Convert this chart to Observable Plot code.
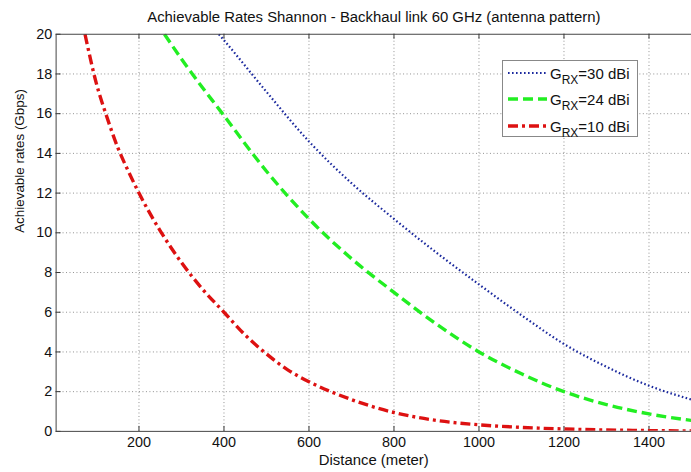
<!DOCTYPE html>
<html>
<head>
<meta charset="utf-8">
<script src="https://cdn.jsdelivr.net/npm/d3@7"></script>
<script src="https://cdn.jsdelivr.net/npm/@observablehq/plot@0.6"></script>
<style>
  html, body { margin: 0; padding: 0; background: #fff; overflow: hidden; }
  #wrap { position: relative; width: 691px; height: 472px; overflow: hidden; font-family: "Liberation Sans", Arial, sans-serif; }
  #legend { position: absolute; left: 502px; top: 60px; width: 136px; height: 77px; border: 1px solid #888; background: #fff; box-sizing: border-box; }
  .row { position: absolute; left: 4px; height: 20px; display: flex; align-items: center; font-size: 15px; color: #111; white-space: nowrap; }
  .row svg { margin-right: 3px; }
  .row sub { font-size: 12px; vertical-align: -5px; line-height: 0; }
</style>
</head>
<body>
<div id="wrap"></div>
<script>
// ---- data ----
const title = "Achievable Rates Shannon - Backhaul link 60 GHz (antenna pattern)";
const xLabel = "Distance (meter)";
const yLabel = "Achievable rates (Gbps)";
const xTicks = [200, 400, 600, 800, 1000, 1200, 1400];
const yTicks = [0, 2, 4, 6, 8, 10, 12, 14, 16, 18, 20];
const seriesNames = ["30 dBi", "24 dBi", "10 dBi"];

const blueX = [388, 400, 500, 600, 700, 800, 900, 1000, 1100, 1200, 1300, 1400, 1500];
const blueY = [20, 19.7, 17.1, 14.6, 12.5, 10.7, 9.0, 7.4, 5.85, 4.4, 3.25, 2.3, 1.6];

const greenX = [260, 300, 400, 500, 600, 700, 800, 900, 1000, 1100, 1200, 1300, 1400, 1500];
const greenY = [20, 18.75, 15.9, 13.1, 10.7, 8.7, 7.0, 5.4, 4.0, 2.9, 2.0, 1.35, 0.88, 0.55];

const redX = [73, 100, 125, 150, 175, 200, 250, 300, 350, 400, 450, 500, 550, 600, 700, 800, 900, 1000, 1100, 1200, 1300, 1400, 1500];
const redY = [20, 17.5, 15.8, 14.3, 13.1, 12.0, 10.1, 8.5, 7.15, 6.0, 4.85, 3.9, 3.1, 2.5, 1.6, 0.95, 0.55, 0.33, 0.2, 0.12, 0.07, 0.04, 0.02];

const toRows = (xs, ys) => xs.map((x, i) => ({x, y: ys[i]}));
const blue = toRows(blueX, blueY);
const green = toRows(greenX, greenY);
const red = toRows(redX, redY);

const gridStyle = {stroke: "#666", strokeOpacity: 0.9, strokeWidth: 0.8, strokeDasharray: "1,2.5"};
const blueStyle = {stroke: "#1c2a9e", strokeWidth: 2.2, strokeDasharray: "1.6,2.4", strokeLinecap: "butt"};
const greenStyle = {stroke: "#22ee22", strokeWidth: 3.4, strokeDasharray: "10,5", strokeLinecap: "butt"};
const redStyle = {stroke: "#dd1111", strokeWidth: 3.4, strokeDasharray: "10,4,3,4", strokeLinecap: "butt"};

const chart = Plot.plot({
  width: 696,
  height: 472,
  marginLeft: 56,
  marginRight: 0,
  marginTop: 34,
  marginBottom: 38,
  style: {fontFamily: "'Liberation Sans', Arial, sans-serif", fontSize: "14.5px", color: "#111", background: "#fff", overflow: "visible"},
  x: {domain: [5, 1500]},
  y: {domain: [0, 20]},
  marks: [
    Plot.gridX(xTicks, gridStyle),
    Plot.gridY(yTicks.slice(1, -1), gridStyle),
    Plot.axisX(xTicks, {tickSize: 0, tickPadding: 5, label: null, tickFormat: d => String(d)}),
    Plot.axisY(yTicks, {tickSize: 0, tickPadding: 4, label: null, tickFormat: d => String(d)}),
    Plot.ruleX(xTicks, {insetTop: 395, stroke: "#333"}),
    Plot.ruleX(xTicks, {insetBottom: 395, stroke: "#333"}),
    Plot.ruleY(yTicks, {insetRight: 635, stroke: "#333"}),
    Plot.line(blue, {x: "x", y: "y", ...blueStyle, curve: "monotone-x", clip: true}),
    Plot.line(green, {x: "x", y: "y", ...greenStyle, curve: "monotone-x", clip: true}),
    Plot.line(red, {x: "x", y: "y", ...redStyle, curve: "monotone-x", clip: true}),
    Plot.frame({stroke: "#444", strokeWidth: 1}),
    Plot.text([title], {frameAnchor: "top", lineAnchor: "middle", dy: -17, fontSize: 15, fill: "#111"}),
    Plot.text([xLabel], {frameAnchor: "bottom", lineAnchor: "middle", dy: 29, fontSize: 15, fill: "#111"}),
    Plot.text([yLabel], {frameAnchor: "left", lineAnchor: "middle", dx: -37, rotate: -90, fontSize: 13.5, fill: "#111"})
  ]
});

const wrap = document.getElementById("wrap");
wrap.appendChild(chart);

// legend
const legend = document.createElement("div");
legend.id = "legend";
const styles = [blueStyle, greenStyle, redStyle];
const rowTops = [2, 28, 55];
seriesNames.forEach((name, i) => {
  const row = document.createElement("div");
  row.className = "row";
  row.style.top = rowTops[i] + "px";
  const s = styles[i];
  row.innerHTML = `<svg width="40" height="10"><line x1="1" y1="5" x2="40" y2="5" stroke="${s.stroke}" stroke-width="${s.strokeWidth}" stroke-dasharray="${s.strokeDasharray}"/></svg><span>G<sub>RX</sub>=${name}</span>`;
  legend.appendChild(row);
});
wrap.appendChild(legend);
</script>
</body>
</html>
